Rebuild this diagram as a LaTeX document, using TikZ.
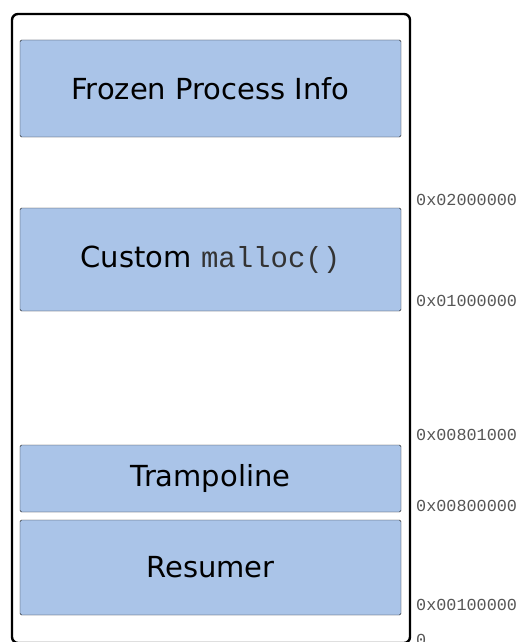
\documentclass[tikz,border=0pt]{standalone}
\usepackage{fontspec}
\usepackage{xcolor}
\newfontfamily\boxfont{DejaVu Sans}
\newfontfamily\addrfont{Liberation Mono}
\definecolor{regionblue}{HTML}{AAC4E8}
\definecolor{addrgray}{HTML}{555555}
\usetikzlibrary{positioning}

\tikzset{
  region/.style={draw=black!90, fill=regionblue, rounded corners=1.5pt,
    minimum width=381pt, inner sep=0pt,
    font=\boxfont\fontsize{29}{34}\selectfont},
  addr/.style={anchor=base west, inner sep=0pt, text=addrgray,
    font=\addrfont\fontsize{16.8}{18}\selectfont}
}

\begin{document}
\begin{tikzpicture}[x=1pt,y=-1pt]
  \useasboundingbox (0,0) rectangle (517,642);

  % address space outline
  \draw[line width=2.4pt, rounded corners=6pt] (12,14) rectangle (410,643);

  % mapped regions
  \node[region, minimum height=97pt]  (frozen) at (210.5,88.5)  {Frozen Process Info};
  \node[region, minimum height=103pt] (alloc)  at (210.5,259.5) {Custom {\addrfont\color{black!80}malloc()}};
  \node[region, minimum height=67pt]  (tramp)  at (210.5,478.5) {Trampoline};
  \node[region, minimum height=95pt]  (resume) at (210.5,567.5) {Resumer};

  % addresses
  \node[addr] (a2000) at (416,205) {0x02000000};
  \node[addr] (a1000) at (416,306) {0x01000000};
  \node[addr] (a801)  at (416,440) {0x00801000};
  \node[addr] (a800)  at (416,511) {0x00800000};
  \node[addr] (a100)  at (416,610) {0x00100000};
  \node[addr] (azero) at (416,645) {0};
\end{tikzpicture}
\end{document}
